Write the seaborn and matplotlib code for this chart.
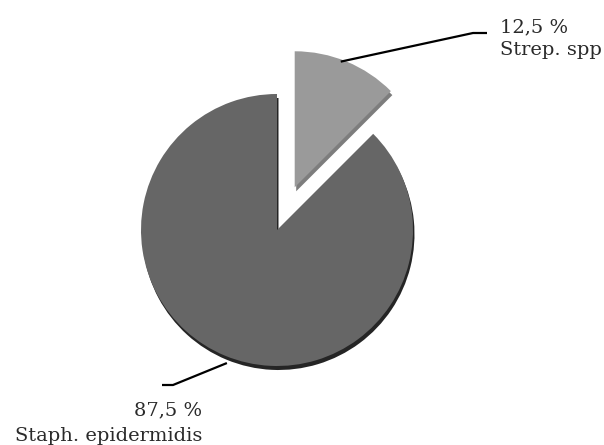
import numpy as np
import matplotlib
matplotlib.use("Agg")
import matplotlib.pyplot as plt
import seaborn as sns

# Share of isolates by organism
organisms = ["Strep. spp", "Staph. epidermidis"]
shares = [12.5, 87.5]
pct_labels = ["12,5 %", "87,5 %"]

sns.set_theme(style="white")
plt.rcParams["font.family"] = ["DejaVu Serif"]

W, H = 604, 445
fig = plt.figure(figsize=(W / 100, H / 100), dpi=100)
ax = fig.add_axes([0, 0, 1, 1])

radius = 136
center = (277, 215)
explode_px = [0.34 * radius, 0]
face = ["#9a9a9a", "#666666"]
rim = ["#7d7d7d", "#252525"]

# darker copy underneath gives the thin 3-D rim
ax.pie(shares, explode=explode_px, startangle=90, counterclock=False,
       colors=rim, radius=radius, center=(center[0] + 1.5, center[1] - 4),
       wedgeprops=dict(linewidth=0))
wedges, _ = ax.pie(shares, explode=explode_px, startangle=90, counterclock=False,
                   colors=face, radius=radius, center=center,
                   wedgeprops=dict(linewidth=0))

ax.set_xlim(0, W)
ax.set_ylim(0, H)
ax.set_aspect("equal")
ax.axis("off")

text_kw = dict(fontsize=14, color="#2a2a2a")

# leader line + label for the exploded slice
w = wedges[0]
mid = np.deg2rad((w.theta1 + w.theta2) / 2)
x0 = w.center[0] + w.r * np.cos(mid)
y0 = w.center[1] + w.r * np.sin(mid)
ax.plot([x0 - 6, 473, 487], [y0, 412, 412], color="black", lw=1.6,
        solid_capstyle="butt")
ax.text(500, 413, pct_labels[0], ha="left", va="baseline", **text_kw)
ax.text(500, 390, organisms[0], ha="left", va="baseline", **text_kw)

# leader line + label for the large slice
w = wedges[1]
mid = np.deg2rad((w.theta1 + w.theta2) / 2)
x1 = w.center[0] + (w.r + 8) * np.cos(mid)
y1 = w.center[1] + (w.r + 8) * np.sin(mid)
ax.plot([x1 + 5, 173, 162], [y1, 60, 60], color="black", lw=1.6,
        solid_capstyle="butt")
ax.text(202, 30, pct_labels[1], ha="right", va="baseline", **text_kw)
ax.text(202, 4, organisms[1], ha="right", va="baseline", **text_kw)

fig.savefig("out.png", dpi=100, facecolor="white")
